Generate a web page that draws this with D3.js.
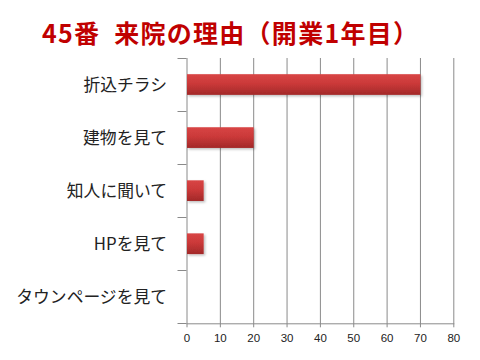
<!DOCTYPE html>
<html><head><meta charset="utf-8">
<script src="https://cdn.jsdelivr.net/npm/d3@7"></script>
<style>
html,body{margin:0;padding:0;background:#fff;}
svg{display:block;}
</style></head>
<body>
<script>
const titleText = "45番\u00a0\u00a0来院の理由（開業1年目）";
const categories = ["折込チラシ", "建物を見て", "知人に聞いて", "HPを見て", "タウンページを見て"];
const values = [70, 20, 5, 5, 0];
const xTicks = [0, 10, 20, 30, 40, 50, 60, 70, 80];

const W = 480, H = 360;
const margin = {left: 186.5, right: 26.7, top: 58, bottom: 36.7};
const svg = d3.select("body").append("svg").attr("width", W).attr("height", H);

const defs = svg.append("defs");
const grad = defs.append("linearGradient").attr("id", "barGrad").attr("x1", 0).attr("y1", 0).attr("x2", 0).attr("y2", 1);
grad.append("stop").attr("offset", "0%").attr("stop-color", "#d84545");
grad.append("stop").attr("offset", "45%").attr("stop-color", "#cb3939");
grad.append("stop").attr("offset", "100%").attr("stop-color", "#a22929");
const filt = defs.append("filter").attr("id", "shadow").attr("x", "-10%").attr("y", "-20%").attr("width", "130%").attr("height", "160%");
filt.append("feDropShadow").attr("dx", 1.5).attr("dy", 1.5).attr("stdDeviation", 1).attr("flood-color", "#000").attr("flood-opacity", 0.25);

const x = d3.scaleLinear().domain([0, 80]).range([margin.left, W - margin.right]);
const y = d3.scaleBand().domain(categories).range([margin.top, H - margin.bottom]).paddingInner(0.61).paddingOuter(0.305);
const step = y.step();
const plotBottom = H - margin.bottom;

// title
svg.append("text")
  .attr("x", 42).attr("y", 43)
  .attr("font-family", "'Noto Sans CJK JP', sans-serif")
  .attr("font-weight", "bold")
  .attr("font-size", 25)
  .attr("fill", "#c00000")
  .attr("textLength", 376)
  .attr("lengthAdjust", "spacing")
  .text(titleText);

// gridlines
const gridColor = "#8a8a8a";
svg.append("g").selectAll("line").data(xTicks).join("line")
  .attr("x1", d => x(d) + 0.5).attr("x2", d => x(d) + 0.5)
  .attr("y1", margin.top).attr("y2", plotBottom + 4)
  .attr("stroke", gridColor).attr("stroke-width", 1);

// bottom axis line
svg.append("line")
  .attr("x1", x(0)).attr("x2", x(80) + 1)
  .attr("y1", plotBottom + 0.5).attr("y2", plotBottom + 0.5)
  .attr("stroke", gridColor);

// y boundary ticks
const bounds = categories.map(c => y(c) - y.paddingOuter() * step).concat([plotBottom]);
svg.append("g").selectAll("line").data(bounds).join("line")
  .attr("x1", x(0) - 9).attr("x2", x(0))
  .attr("y1", d => Math.round(d) + 0.5).attr("y2", d => Math.round(d) + 0.5)
  .attr("stroke", gridColor);

// x tick labels
svg.append("g").selectAll("text").data(xTicks).join("text")
  .attr("x", d => x(d) + 0.5).attr("y", plotBottom + 18.5)
  .attr("text-anchor", "middle")
  .attr("font-family", "'Liberation Sans', Arial, sans-serif")
  .attr("font-size", 11.5)
  .attr("fill", "#222")
  .text(d => d);

// category labels
svg.append("g").selectAll("text").data(categories).join("text")
  .attr("x", 167).attr("y", d => y(d) + y.bandwidth() / 2)
  .attr("dy", "0.36em")
  .attr("text-anchor", "end")
  .attr("font-family", "'Noto Sans CJK JP', sans-serif")
  .attr("font-size", 16.8)
  .attr("fill", "#222")
  .text(d => d);

// bars
svg.append("g").selectAll("rect").data(categories.map((c, i) => ({c, v: values[i]}))).join("rect")
  .attr("x", x(0) + 0.5)
  .attr("y", d => y(d.c))
  .attr("width", d => Math.max(0, x(d.v) - x(0)))
  .attr("height", y.bandwidth())
  .attr("fill", "url(#barGrad)")
  .attr("filter", "url(#shadow)");
</script>
</body></html>
